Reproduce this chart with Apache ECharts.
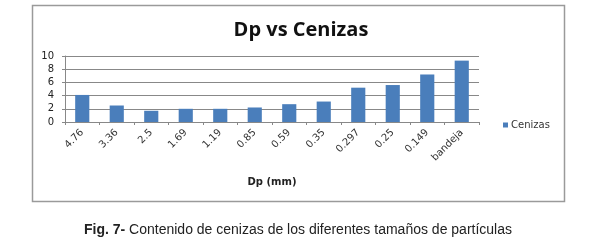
<!DOCTYPE html>
<html><head><meta charset="utf-8">
<script src="https://cdn.jsdelivr.net/npm/echarts@6/dist/echarts.min.js"></script>
<style>html,body{margin:0;padding:0;background:#fff}#c{width:589px;height:250px}</style>
</head><body><div id="c"></div>
<script>
var categories = ['4.76','3.36','2.5','1.69','1.19','0.85','0.59','0.35','0.297','0.25','0.149','bandeja'];
var cenizas = [4.1, 2.5, 1.7, 2.0, 2.0, 2.2, 2.7, 3.1, 5.2, 5.6, 7.2, 9.3];
var yTicks = [0, 2, 4, 6, 8, 10];
var seriesName = 'Cenizas';
var titleText = 'Dp vs Cenizas';
var xAxisName = 'Dp (mm)';

var chart = echarts.init(document.getElementById('c'), null, {renderer:'canvas'});
chart.setOption({
  backgroundColor:'#fff',
  animation:false,
  graphic:[{type:'rect', shape:{x:32.5,y:5.5,width:532,height:196}, style:{fill:'none', stroke:'#9a9a9a', lineWidth:1.5}, z:-1}],
  title:[
    {text:titleText, left:296, top:15, textAlign:'center', textStyle:{fontFamily:'Open Sans', fontWeight:'bold', fontSize:20, color:'#111'}},
    {text:'{b|Fig. 7-} Contenido de cenizas de los diferentes tamaños de partículas', left:293, top:218, textAlign:'center',
     textStyle:{fontFamily:'Liberation Sans', fontWeight:'normal', fontSize:14, color:'#222',
      rich:{b:{fontFamily:'Liberation Sans', fontWeight:'bold', fontSize:14, color:'#222'}}}}
  ],
  legend:{data:[seriesName], left:498, top:115, itemWidth:5, itemHeight:5, itemGap:4, icon:'rect',
    textStyle:{fontFamily:'DejaVu Sans', fontSize:10, color:'#333', padding:[0,0,0,-2]}},
  grid:{left:65, right:110, top:56, bottom:128, containLabel:false},
  xAxis:{type:'category', data:categories, name:xAxisName, nameLocation:'middle', nameGap:55,
    nameTextStyle:{fontFamily:'DejaVu Sans', fontWeight:'bold', fontSize:10, color:'#222'},
    axisLine:{lineStyle:{color:'#888'}}, axisTick:{show:true, length:3, lineStyle:{color:'#888'}},
    axisLabel:{rotate:45, fontFamily:'DejaVu Sans', fontSize:10, color:'#333', margin:9, interval:0}},
  yAxis:{type:'value', min:0, max:10, interval:2,
    axisLine:{show:true, lineStyle:{color:'#888'}}, axisTick:{show:true, length:3, lineStyle:{color:'#888'}},
    splitLine:{lineStyle:{color:'#888', width:1}},
    axisLabel:{fontFamily:'DejaVu Sans', fontSize:10, color:'#222', margin:11,
      formatter:function(v){return yTicks.indexOf(v)>=0 ? String(v) : '';}}},
  series:[{name:seriesName, type:'bar', data:cenizas, barWidth:'41%', itemStyle:{color:'#4a7ebb'}}]
});
</script></body></html>
